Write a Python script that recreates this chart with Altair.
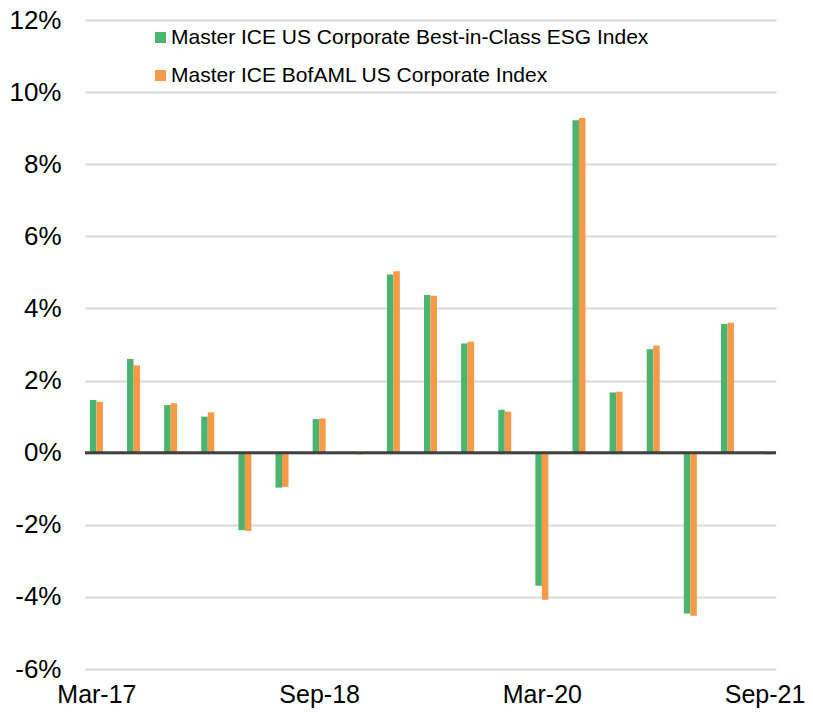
import altair as alt
import pandas as pd

quarters = ["Mar-17", "Jun-17", "Sep-17", "Dec-17", "Mar-18", "Jun-18", "Sep-18", "Dec-18",
            "Mar-19", "Jun-19", "Sep-19", "Dec-19", "Mar-20", "Jun-20", "Sep-20", "Dec-20",
            "Mar-21", "Jun-21", "Sep-21"]
esg = [1.46, 2.60, 1.32, 1.00, -2.15, -0.97, 0.93, -0.02,
       4.94, 4.37, 3.03, 1.19, -3.69, 9.22, 1.67, 2.87,
       -4.46, 3.57, -0.03]
bofaml = [1.41, 2.42, 1.37, 1.12, -2.17, -0.95, 0.95, -0.05,
          5.03, 4.35, 3.08, 1.14, -4.08, 9.28, 1.69, 2.97,
          -4.52, 3.60, -0.05]
series_names = ["Master ICE US Corporate Best-in-Class ESG Index",
                "Master ICE BofAML US Corporate Index"]
colors = ["#4DB46F", "#F59B48"]
y_ticks = [-6, -4, -2, 0, 2, 4, 6, 8, 10, 12]
x_label_idx = [0, 6, 12, 18]

rows = []
for i, q in enumerate(quarters):
    rows.append({"idx": i, "quarter": q, "series": series_names[0], "value": esg[i]})
    rows.append({"idx": i, "quarter": q, "series": series_names[1], "value": bofaml[i]})
df = pd.DataFrame(rows)

W, H = 691, 649
FONT = "Liberation Sans"

label_map = "{" + ",".join(f"'{i}':'{quarters[i]}'" for i in x_label_idx) + "}"

x_scale = alt.Scale(domain=[-0.1726, 18.1726], nice=False, zero=False)
y_scale = alt.Scale(domain=[-6, 12], nice=False)
color_scale = alt.Scale(domain=series_names, range=colors)

x_axis = alt.Axis(values=x_label_idx, labelExpr=f"{label_map}[datum.value + '']",
                  grid=False, domain=False, domainOpacity=0, ticks=False, labelFontSize=25,
                  labelFont=FONT, labelColor="#000000", labelPadding=13, title=None,
                  labelFlush=False)
y_axis = alt.Axis(values=y_ticks, labelExpr="datum.value + '%'", grid=True,
                  gridColor="#D9D9D9", gridWidth=2, domain=False, domainOpacity=0,
                  ticks=False, labelFontSize=26, labelFont=FONT, labelColor="#000000",
                  labelPadding=24, title=None)

base = alt.Chart(df)

def bars(name, offset):
    return base.transform_filter(alt.datum.series == name).mark_bar(
        width=6.5, xOffset=offset
    ).encode(
        x=alt.X("idx:Q", scale=x_scale, axis=x_axis),
        y=alt.Y("value:Q", scale=y_scale, axis=y_axis),
        color=alt.Color("series:N", scale=color_scale,
                        legend=alt.Legend(title=None, orient="none", legendX=65, legendY=7,
                                          symbolType="square", symbolSize=121,
                                          symbolStrokeWidth=0, labelFontSize=21,
                                          labelFont=FONT, labelColor="#000000",
                                          labelOffset=0, rowPadding=16, padding=0,
                                          labelLimit=700)),
    )

green = bars(series_names[0], -3.25)
orange = bars(series_names[1], 3.25)

zero = alt.Chart(pd.DataFrame({"v": [0]})).mark_rule(color="#404040", strokeWidth=3).encode(
    y=alt.Y("v:Q", scale=y_scale, axis=y_axis),
)

chart = alt.layer(green, orange, zero).properties(
    width=W, height=H,
    background="#FFFFFF",
    view=alt.ViewBackground(stroke="transparent", strokeWidth=0, strokeOpacity=0),
    autosize=alt.AutoSizeParams(type="none"),
    padding={"left": 77, "top": 12, "right": 29, "bottom": 39},
).configure_view(stroke="transparent", strokeWidth=0, strokeOpacity=0).configure_axis(
    domain=False
).configure_axisX(grid=False, domain=False).configure_axisY(domain=False)

chart.save("out.html", embed_options={"renderer": "svg", "actions": False})
